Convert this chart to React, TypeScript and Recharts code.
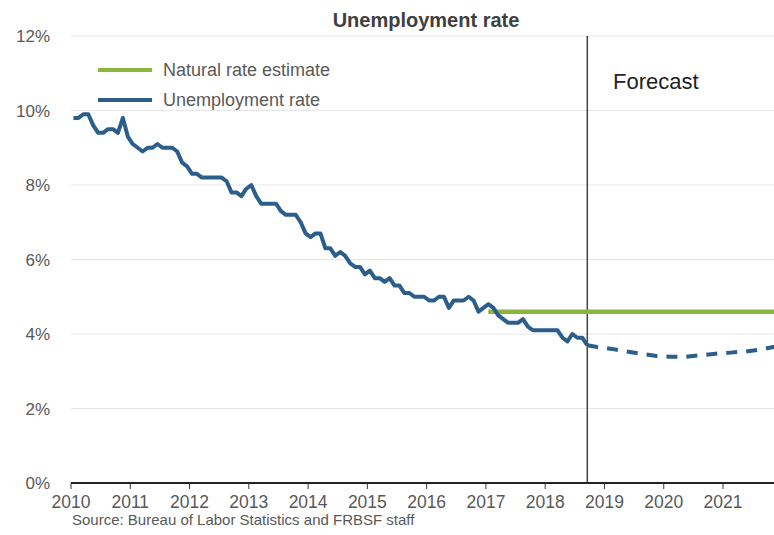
import React from 'react';
import { LineChart, Line, XAxis, YAxis, CartesianGrid, ReferenceLine, Legend } from 'recharts';

// Monthly unemployment rate (%), Jan 2010 – Sep 2018
const unemploymentRates = [
  9.8, 9.8, 9.9, 9.9, 9.6, 9.4, 9.4, 9.5, 9.5, 9.4, 9.8, 9.3,
  9.1, 9.0, 8.9, 9.0, 9.0, 9.1, 9.0, 9.0, 9.0, 8.9, 8.6, 8.5,
  8.3, 8.3, 8.2, 8.2, 8.2, 8.2, 8.2, 8.1, 7.8, 7.8, 7.7, 7.9,
  8.0, 7.7, 7.5, 7.5, 7.5, 7.5, 7.3, 7.2, 7.2, 7.2, 7.0, 6.7,
  6.6, 6.7, 6.7, 6.3, 6.3, 6.1, 6.2, 6.1, 5.9, 5.8, 5.8, 5.6,
  5.7, 5.5, 5.5, 5.4, 5.5, 5.3, 5.3, 5.1, 5.1, 5.0, 5.0, 5.0,
  4.9, 4.9, 5.0, 5.0, 4.7, 4.9, 4.9, 4.9, 5.0, 4.9, 4.6, 4.7,
  4.8, 4.7, 4.5, 4.4, 4.3, 4.3, 4.3, 4.4, 4.2, 4.1, 4.1, 4.1,
  4.1, 4.1, 4.1, 3.9, 3.8, 4.0, 3.9, 3.9, 3.7,
];
const actualStartYear = 2010;

// Forecast (dashed)
const forecastYears = [2018.71, 2018.875, 2019.125, 2019.375, 2019.625, 2019.875, 2020.125, 2020.375, 2020.625, 2020.875, 2021.125, 2021.375, 2021.625, 2021.875];
const forecastRates = [3.7, 3.65, 3.6, 3.53, 3.47, 3.41, 3.39, 3.39, 3.43, 3.47, 3.5, 3.53, 3.58, 3.66];

// Natural rate estimate
const naturalYears = [2017.04, 2021.9];
const naturalRates = [4.6, 4.6];

const forecastStart = 2018.71;
const yearTicks = [2010, 2011, 2012, 2013, 2014, 2015, 2016, 2017, 2018, 2019, 2020, 2021];
const percentTicks = [0, 2, 4, 6, 8, 10, 12];

const actualData = unemploymentRates.map((v, i) => ({ x: actualStartYear + (i + 0.5) / 12, y: v }));
const forecastData = forecastYears.map((x, i) => ({ x, y: forecastRates[i] }));
const naturalData = naturalYears.map((x, i) => ({ x, y: naturalRates[i] }));

const FONT = '"Liberation Sans", Arial, sans-serif';
const BLUE = '#2C5E8C';
const GREEN = '#8AB63E';
const TEXT = '#595959';

const LegendContent = (props: any) => {
  const items = (props.payload || []).filter((p: any) => p.type !== 'none');
  return (
    <div style={{ fontFamily: FONT }}>
      {items.map((p: any) => (
        <div key={p.value} style={{ display: 'flex', alignItems: 'center', height: 30 }}>
          <span style={{ display: 'inline-block', width: 54, height: 4, background: p.color }} />
          <span style={{ marginLeft: 11, fontSize: 18, color: TEXT, lineHeight: '30px' }}>{p.value}</span>
        </div>
      ))}
    </div>
  );
};

export default function App() {
  return (
    <div style={{ position: 'absolute', left: 0, top: 0, width: 774, height: 535, background: '#fff', fontFamily: FONT }}>
      <LineChart width={774} height={535} margin={{ top: 36, right: 0, left: 11, bottom: 22 }}>
        <CartesianGrid vertical={false} stroke="#e6e6e6" strokeWidth={1} />
        <XAxis
          type="number"
          dataKey="x"
          domain={[2010, 2021.86]}
          allowDataOverflow
          ticks={yearTicks}
          height={30}
          tickSize={6}
          tickMargin={7}
          tickLine={{ stroke: '#333', strokeWidth: 1 }}
          axisLine={{ stroke: '#222', strokeWidth: 2 }}
          tick={{ fontSize: 17.5, fill: TEXT, fontFamily: FONT }}
        />
        <YAxis
          type="number"
          domain={[0, 12]}
          ticks={percentTicks}
          width={60}
          axisLine={false}
          tickLine={false}
          tickSize={6}
          tickMargin={15}
          tickFormatter={(v: number) => `${v}%`}
          tick={{ fontSize: 17, fill: TEXT, fontFamily: FONT }}
        />
        <ReferenceLine x={forecastStart} stroke="#444" strokeWidth={1.5} />
        <Legend
          layout="vertical"
          align="center"
          verticalAlign="middle"
          wrapperStyle={{ left: 98, top: 55, width: 'auto' }}
          content={LegendContent}
        />
        <Line
          data={naturalData}
          dataKey="y"
          name="Natural rate estimate"
          stroke={GREEN}
          strokeWidth={4.5}
          dot={false}
          activeDot={false}
          isAnimationActive={false}
        />
        <Line
          data={actualData}
          dataKey="y"
          name="Unemployment rate"
          stroke={BLUE}
          strokeWidth={4}
          dot={false}
          activeDot={false}
          strokeLinejoin="round"
          isAnimationActive={false}
        />
        <Line
          data={forecastData}
          dataKey="y"
          name="Forecast"
          legendType="none"
          stroke={BLUE}
          strokeWidth={4}
          strokeDasharray="11 9"
          dot={false}
          activeDot={false}
          isAnimationActive={false}
        />
      </LineChart>
      <div style={{ position: 'absolute', left: 226, width: 400, top: 10, textAlign: 'center', fontSize: 20, lineHeight: '20px', fontWeight: 'bold', color: '#404040' }}>
        Unemployment rate
      </div>
      <div style={{ position: 'absolute', left: 613, top: 71, fontSize: 22, lineHeight: '22px', color: '#222' }}>
        Forecast
      </div>
      <div style={{ position: 'absolute', left: 72, top: 512, fontSize: 15, lineHeight: '15px', color: TEXT }}>
        Source: Bureau of Labor Statistics and FRBSF staff
      </div>
    </div>
  );
}
